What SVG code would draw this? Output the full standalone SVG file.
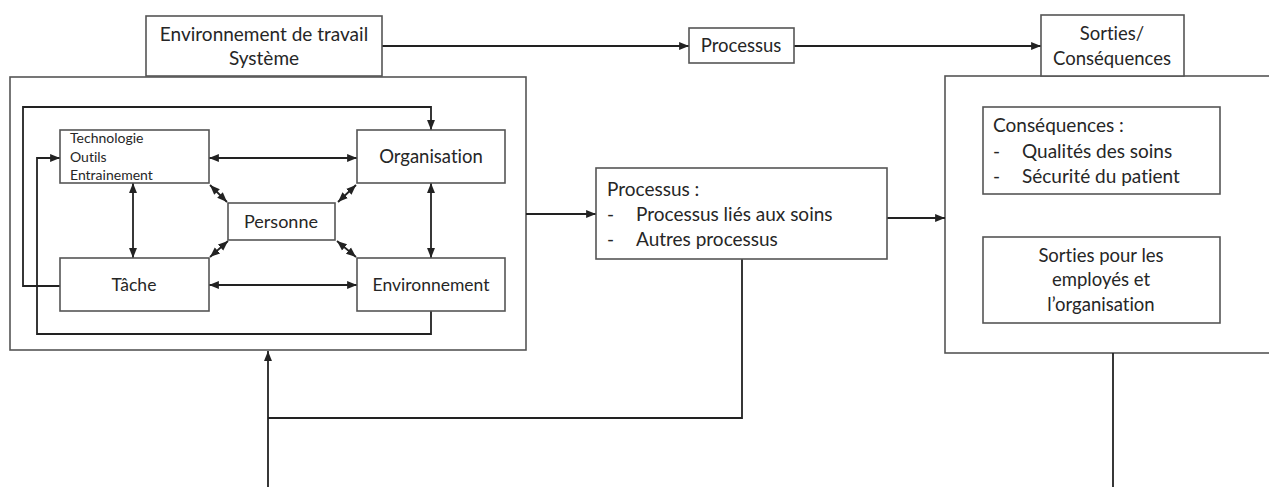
<svg xmlns="http://www.w3.org/2000/svg" width="1269" height="487" viewBox="0 0 1269 487">
<style>
.box{fill:#fff;stroke:#555;stroke-width:1.6}
.ln{fill:none;stroke:#222;stroke-width:1.8}
.t{font-family:Lato,"Liberation Sans",sans-serif;fill:#262626;font-variant-ligatures:none}
.m{text-anchor:middle}
</style>
<defs>
<marker id="a" viewBox="0 0 10 10" refX="10" refY="5" markerWidth="5.5" markerHeight="5.5" orient="auto-start-reverse" markerUnits="strokeWidth">
<path d="M0,1 L10,5 L0,9 z" fill="#222"/>
</marker>
</defs>
<g id="containers">
<rect id="system" class="box" x="10" y="77" width="516" height="273"/>
<rect id="outputs" class="box" x="945" y="76" width="330" height="277"/>
</g>
<g id="connectors">
<path class="ln" d="M382,46 H689" marker-end="url(#a)"/>
<path class="ln" d="M794,46 H1041" marker-end="url(#a)"/>
<path class="ln" d="M60,286 H23 V107 H431 V130" marker-end="url(#a)"/>
<path class="ln" d="M431,311 V334 H37 V158 H60" marker-end="url(#a)"/>
<path class="ln" d="M209,158 H357" marker-start="url(#a)" marker-end="url(#a)"/>
<path class="ln" d="M209,285 H357" marker-start="url(#a)" marker-end="url(#a)"/>
<path class="ln" d="M133,183 V258" marker-start="url(#a)" marker-end="url(#a)"/>
<path class="ln" d="M431,183 V258" marker-start="url(#a)" marker-end="url(#a)"/>
<path class="ln" d="M210,185 L227,202" marker-start="url(#a)" marker-end="url(#a)"/>
<path class="ln" d="M356,185 L338,202" marker-start="url(#a)" marker-end="url(#a)"/>
<path class="ln" d="M228,241 L210,257" marker-start="url(#a)" marker-end="url(#a)"/>
<path class="ln" d="M337,241 L356,257" marker-start="url(#a)" marker-end="url(#a)"/>
<path class="ln" d="M526,214 H596" marker-end="url(#a)"/>
<path class="ln" d="M887,218 H945" marker-end="url(#a)"/>
<path class="ln" d="M742,259 V418 H268"/>
<path class="ln" d="M268,487 V351" marker-end="url(#a)"/>
<path class="ln" d="M1113,353 V487"/>
</g>
<g id="env-travail">
<rect class="box" x="146" y="16" width="236" height="60"/>
<text class="t m" x="264" y="41" font-size="19">Environnement  de travail</text>
<text class="t m" x="264" y="65" font-size="19">Système</text>
</g>
<g id="processus-top">
<rect class="box" x="689" y="28" width="105" height="35"/>
<text class="t m" x="741" y="52" font-size="18.5">Processus</text>
</g>
<g id="sorties-top">
<rect class="box" x="1041" y="15" width="143" height="61"/>
<text class="t m" x="1112" y="40" font-size="18.5">Sorties/</text>
<text class="t m" x="1112" y="65" font-size="18.5">Conséquences</text>
</g>
<g id="technologie">
<rect class="box" x="60" y="130" width="149" height="53"/>
<text class="t" x="70" y="143" font-size="14">Technologie</text>
<text class="t" x="70" y="162" font-size="14">Outils</text>
<text class="t" x="70" y="180" font-size="14">Entrainement</text>
</g>
<g id="organisation">
<rect class="box" x="357" y="130" width="148" height="53"/>
<text class="t m" x="431" y="163" font-size="18.5">Organisation</text>
</g>
<g id="personne">
<rect class="box" x="228" y="203" width="107" height="37"/>
<text class="t m" x="281" y="228" font-size="18">Personne</text>
</g>
<g id="tache">
<rect class="box" x="60" y="258" width="149" height="53"/>
<text class="t m" x="134" y="291" font-size="17.5">Tâche</text>
</g>
<g id="environnement">
<rect class="box" x="357" y="258" width="148" height="53"/>
<text class="t m" x="431" y="291" font-size="17.5">Environnement</text>
</g>
<g id="processus">
<rect class="box" x="596" y="168" width="291" height="91"/>
<text class="t" x="607" y="196" font-size="19">Processus :</text>
<text class="t" x="607" y="221" font-size="19">-</text>
<text class="t" x="636" y="221" font-size="19">Processus liés aux soins</text>
<text class="t" x="607" y="246" font-size="19">-</text>
<text class="t" x="636" y="246" font-size="19">Autres processus</text>
</g>
<g id="consequences">
<rect class="box" x="983" y="107" width="237" height="87"/>
<text class="t" x="993" y="132" font-size="19">Conséquences :</text>
<text class="t" x="993" y="158" font-size="19">-</text>
<text class="t" x="1022" y="158" font-size="19">Qualités des soins</text>
<text class="t" x="993" y="183" font-size="19">-</text>
<text class="t" x="1022" y="183" font-size="19">Sécurité du patient</text>
</g>
<g id="sorties-employes">
<rect class="box" x="983" y="237" width="237" height="86"/>
<text class="t m" x="1101" y="262" font-size="18.5">Sorties pour les</text>
<text class="t m" x="1101" y="286" font-size="18.5">employés et</text>
<text class="t m" x="1101" y="311" font-size="18.5">l’organisation</text>
</g>
</svg>
